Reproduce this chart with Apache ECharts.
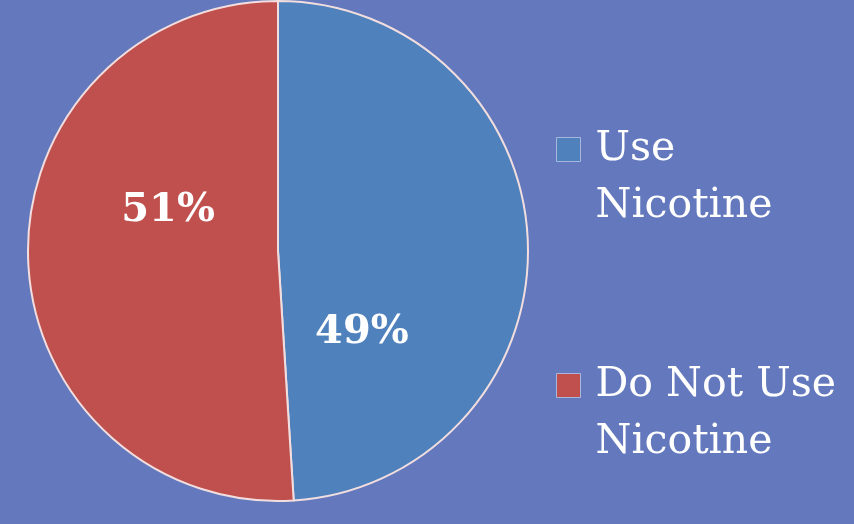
<!DOCTYPE html>
<html>
<head>
<meta charset="utf-8">
<script src="https://cdn.jsdelivr.net/npm/echarts@6/dist/echarts.min.js"></script>
<style>
html,body{margin:0;padding:0;background:#6479bd;}
#c{width:854px;height:524px;}
</style>
</head>
<body>
<div id="c"></div>
<script>
var categories = ['Use Nicotine', 'Do Not Use Nicotine'];
var legendLabels = ['Use\nNicotine', 'Do Not Use\nNicotine'];
var values = [49, 51];
var colors = ['#4f81bd', '#c0504d'];
var labelOffsets = [[-44, 86], [18, -44]];

var chart = echarts.init(document.getElementById('c'));
var LH = 57;
chart.setOption({
  backgroundColor: '#6479bd',
  animation: false,
  legend: {
    orient: 'vertical',
    left: 556,
    top: 64,
    padding: 0,
    itemGap: 65,
    itemWidth: 44,
    itemHeight: 24,
    icon: 'path://M0,0H10V10H0Z',
    data: categories.map(function (n, i) {
      return { name: n, itemStyle: { color: colors[i], borderColor: '#a9b6dc', borderWidth: 1 } };
    }),
    formatter: function (name) { return '\n' + legendLabels[categories.indexOf(name)]; },
    textStyle: {
      color: '#ffffff',
      fontFamily: 'DejaVu Serif',
      fontSize: 41,
      lineHeight: LH
    }
  },
  series: [{
    type: 'pie',
    center: [278, 251],
    radius: 250,
    startAngle: 90,
    clockwise: true,
    silent: true,
    itemStyle: { borderColor: '#f2dede', borderWidth: 2 },
    label: {
      position: 'inside',
      color: '#ffffff',
      fontFamily: 'DejaVu Serif',
      fontWeight: 'bold',
      fontSize: 40,
      formatter: function (p) { return p.value + '%'; }
    },
    labelLine: { show: false },
    data: categories.map(function (n, i) {
      return { name: n, value: values[i], itemStyle: { color: colors[i] }, label: { offset: labelOffsets[i] } };
    })
  }]
});
</script>
</body>
</html>
